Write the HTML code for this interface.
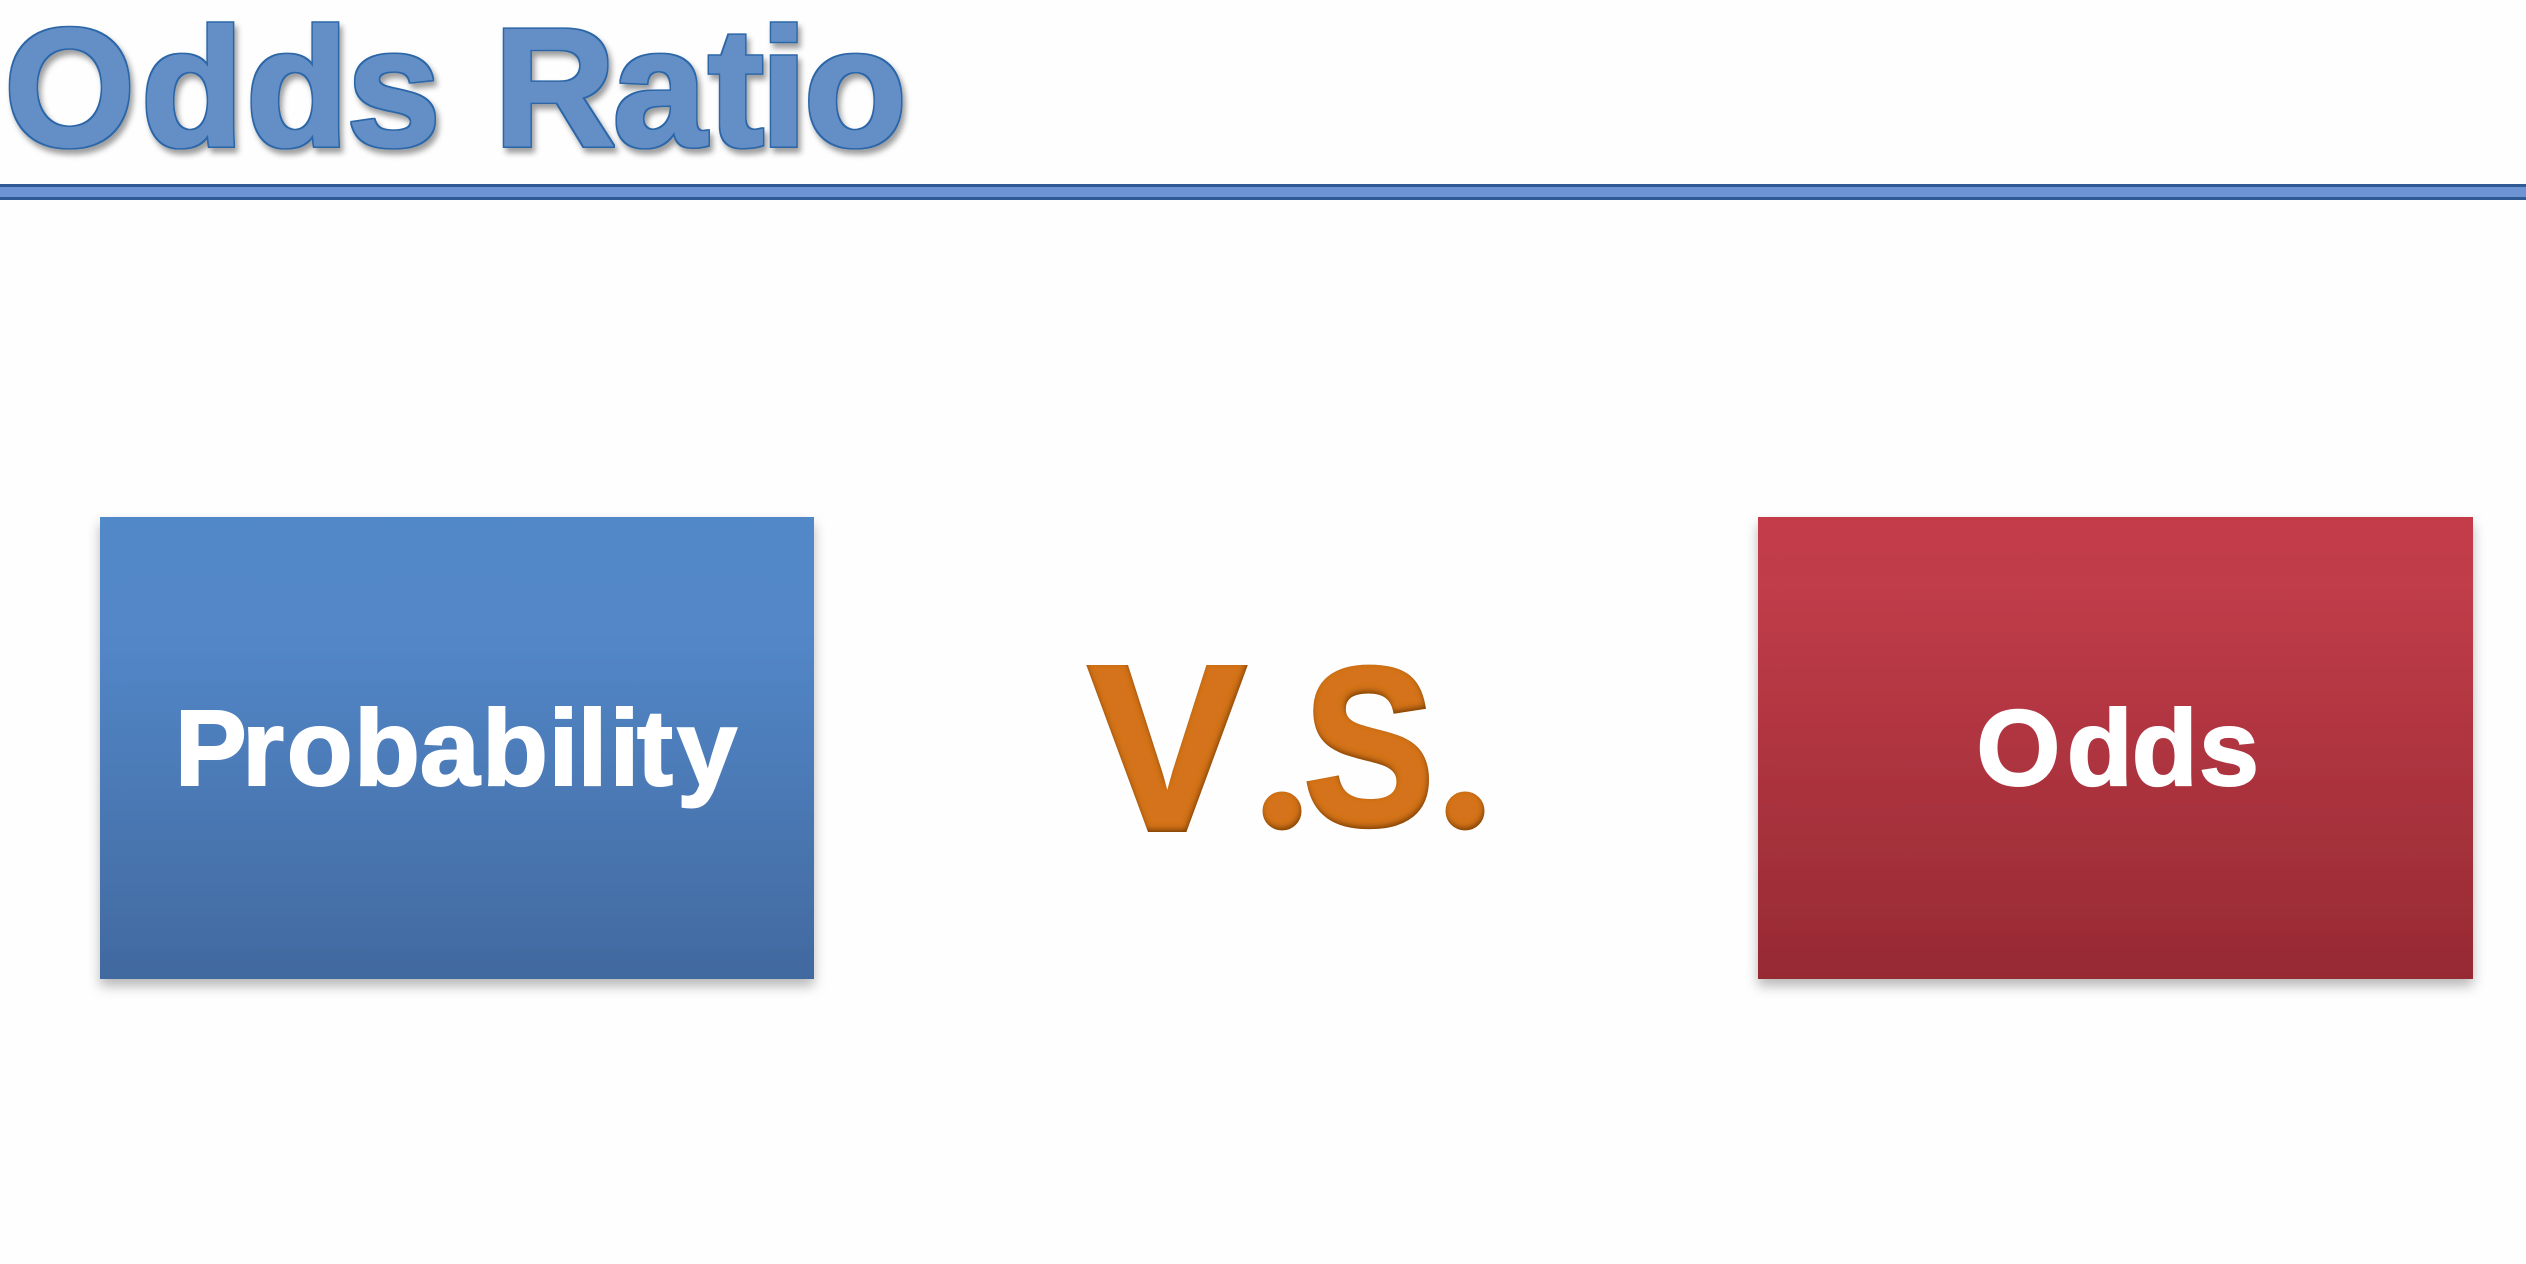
<!DOCTYPE html>
<html lang="en">
<head>
<meta charset="utf-8">
<title>Odds Ratio</title>
<style>
html,body{margin:0;padding:0;background:#fefefe;}
body{width:2526px;height:1264px;overflow:hidden;}
svg{display:block;}
text{font-family:"Liberation Sans",sans-serif;font-weight:700;stroke-linejoin:miter;stroke-miterlimit:3;}
</style>
</head>
<body>
<svg width="2526" height="1264" viewBox="0 0 2526 1264" xmlns="http://www.w3.org/2000/svg">
  <defs>
    <linearGradient id="blueGrad" x1="0" y1="0" x2="0" y2="1">
      <stop offset="0" stop-color="#5188c8"/>
      <stop offset="0.25" stop-color="#5387c8"/>
      <stop offset="1" stop-color="#41699f"/>
    </linearGradient>
    <linearGradient id="redGrad" x1="0" y1="0" x2="0" y2="1">
      <stop offset="0" stop-color="#c33b48"/>
      <stop offset="0.15" stop-color="#c03c49"/>
      <stop offset="1" stop-color="#962a33"/>
    </linearGradient>
    <filter id="titleFx" x="-5%" y="-15%" width="110%" height="140%">
      <feMorphology in="SourceAlpha" operator="dilate" radius="1.5" result="fat"/>
      <feFlood flood-color="#2b66a8"/>
      <feComposite in2="fat" operator="in" result="outline"/>
      <feGaussianBlur in="fat" stdDeviation="3" result="sb"/>
      <feOffset in="sb" dx="3" dy="5" result="so"/>
      <feFlood flood-color="#000" flood-opacity="0.38"/>
      <feComposite in2="so" operator="in" result="shadow"/>
      <feMerge>
        <feMergeNode in="shadow"/>
        <feMergeNode in="outline"/>
        <feMergeNode in="SourceGraphic"/>
      </feMerge>
    </filter>
    <filter id="boxShadow" x="-5%" y="-5%" width="110%" height="112%">
      <feDropShadow dx="0" dy="7" stdDeviation="6" flood-color="#000" flood-opacity="0.28"/>
    </filter>
    <filter id="bevel" x="-10%" y="-10%" width="120%" height="120%">
      <feGaussianBlur in="SourceAlpha" stdDeviation="3" result="b"/>
      <feOffset in="b" dx="-1" dy="-3" result="o"/>
      <feComposite in="SourceAlpha" in2="o" operator="out" result="inner"/>
      <feFlood flood-color="#5f2f08" flood-opacity="0.85"/>
      <feComposite in2="inner" operator="in" result="shade"/>
      <feMerge>
        <feMergeNode in="SourceGraphic"/>
        <feMergeNode in="shade"/>
      </feMerge>
    </filter>
  </defs>

  <rect x="0" y="0" width="2526" height="1264" fill="#fefefe"/>

  <g filter="url(#titleFx)">
    <text y="145.5" font-size="168" fill="#648fc6" stroke="#648fc6" stroke-width="2"
          x="4.3 141 246 347 440 494 613 708 760.5 804"
         >Odds Ratio</text>
  </g>

  <rect x="0" y="184" width="2526" height="16" fill="#2f5a94"/>
  <rect x="0" y="187" width="2526" height="10" fill="#6e94d6"/>

  <rect x="100" y="517" width="714" height="462" fill="url(#blueGrad)" filter="url(#boxShadow)"/>
  <text y="785" font-size="108" fill="#fff" stroke="#fff" stroke-width="2"
        x="174.8 242 286.7 354 419.7 482 548.5 577.5 609.5 637 677"
       >Probability</text>

  <g filter="url(#bevel)" fill="#d4731f" stroke="#d4731f" stroke-width="6">
    <text x="1089" y="829" font-size="234">V</text>
    <text x="1252" y="827" font-size="240" stroke="none" style="font-family:'Liberation Serif',serif">.</text>
    <text transform="translate(1304 824) scale(0.87 1)" x="0" y="0" font-size="224">S</text>
    <text x="1435" y="827" font-size="240" stroke="none" style="font-family:'Liberation Serif',serif">.</text>
  </g>

  <rect x="1758" y="517" width="715" height="462" fill="url(#redGrad)" filter="url(#boxShadow)"/>
  <text y="785" font-size="108" fill="#fff" stroke="#fff" stroke-width="2"
        x="1976.4 2066.7 2131.7 2199"
       >Odds</text>
</svg>
</body>
</html>
